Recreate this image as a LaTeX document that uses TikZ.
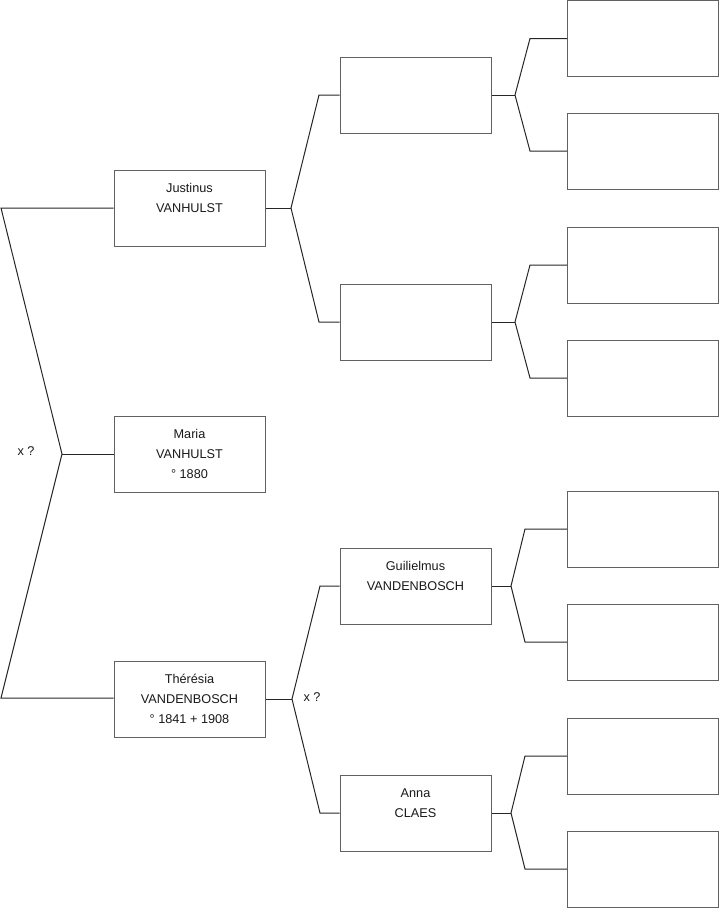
\documentclass[tikz,border=0pt]{standalone}
\usepackage{fontspec}
\setmainfont{Liberation Sans}
\begin{document}
\begin{tikzpicture}[x=1pt,y=-1pt,
  person/.style={draw=black!62, line width=1pt, minimum width=151pt, minimum height=76pt,
    inner sep=0pt, align=center, font=\fontsize{12.7}{20}\selectfont, text=black!90},
  conn/.style={draw=black!85, line width=1pt, line join=miter},
  lbl/.style={font=\fontsize{12.7}{15}\selectfont, text=black!90, inner sep=0pt}]
\useasboundingbox (0,0) rectangle (719,908);
% generation 1
\node[person] (J) at (189.5,208) {\strut Justinus\\\strut VANHULST\\\strut};
\node[person] (M) at (189.5,454) {\strut Maria\\\strut VANHULST\\\strut ° 1880};
\node[person] (T) at (189.5,699) {\strut Thérésia\\\strut VANDENBOSCH\\\strut ° 1841 + 1908};
% generation 2
\node[person] (A) at (415.5,95) {};
\node[person] (B) at (415.5,322) {};
\node[person] (C) at (415.5,586) {\strut Guilielmus\\\strut VANDENBOSCH\\\strut};
\node[person] (D) at (415.5,813) {\strut Anna\\\strut CLAES\\\strut};
% generation 3
\node[person] (A1) at (643,38.5) {};
\node[person] (A2) at (643,151) {};
\node[person] (B1) at (643,265) {};
\node[person] (B2) at (643,378) {};
\node[person] (C1) at (643,529) {};
\node[person] (C2) at (643,642) {};
\node[person] (D1) at (643,756) {};
\node[person] (D2) at (643,869) {};
% labels
\node[lbl] (x1) at (26,451) {x ?};
\node[lbl] (x2) at (312,697) {x ?};
% fork coordinates
\coordinate (lt) at (1,208);
\coordinate (lj) at (62,454);
\coordinate (lb) at (1,698);
\coordinate (jj) at (291,208);
\coordinate (jt) at (319,95);
\coordinate (jb) at (319,322);
\coordinate (tj) at (292,699);
\coordinate (tt) at (320,586);
\coordinate (tb) at (320,813);
\coordinate (aj) at (515,95);
\coordinate (at1) at (530,38.5);
\coordinate (ab) at (530,151);
\coordinate (bj) at (515,322);
\coordinate (bt) at (530,265);
\coordinate (bb) at (530,378);
\coordinate (cj) at (511,586);
\coordinate (ct) at (525,529);
\coordinate (cb) at (525,642);
\coordinate (dj) at (511,813);
\coordinate (dt) at (525,756);
\coordinate (db) at (525,869);
% connectors
\draw[conn] (J.west |- lt) -- (lt) -- (lj) -- (lb) -- (T.west |- lb);
\draw[conn] (lj) -- (M.west |- lj);
\draw[conn] (J.east |- jj) -- (jj);
\draw[conn] (A.west |- jt) -- (jt) -- (jj) -- (jb) -- (B.west |- jb);
\draw[conn] (T.east |- tj) -- (tj);
\draw[conn] (C.west |- tt) -- (tt) -- (tj) -- (tb) -- (D.west |- tb);
\draw[conn] (A.east |- aj) -- (aj);
\draw[conn] (A1.west |- at1) -- (at1) -- (aj) -- (ab) -- (A2.west |- ab);
\draw[conn] (B.east |- bj) -- (bj);
\draw[conn] (B1.west |- bt) -- (bt) -- (bj) -- (bb) -- (B2.west |- bb);
\draw[conn] (C.east |- cj) -- (cj);
\draw[conn] (C1.west |- ct) -- (ct) -- (cj) -- (cb) -- (C2.west |- cb);
\draw[conn] (D.east |- dj) -- (dj);
\draw[conn] (D1.west |- dt) -- (dt) -- (dj) -- (db) -- (D2.west |- db);
\end{tikzpicture}
\end{document}
